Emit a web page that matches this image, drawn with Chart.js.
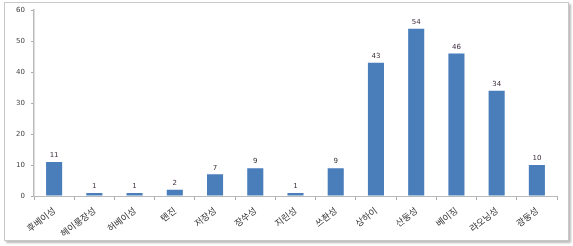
<!DOCTYPE html>
<html><head><meta charset="utf-8">
<script src="https://cdn.jsdelivr.net/npm/chart.js@4/dist/chart.umd.min.js"></script>
<style>
html,body{margin:0;padding:0;background:#fff;}
#wrap{position:relative;width:573px;height:246px;}
#frame{position:absolute;left:4px;top:2px;width:563px;height:237px;border:1px solid #c8c8c8;box-shadow:2px 2px 2px #bbb;}
canvas{position:absolute;left:0;top:0;}
</style></head>
<body><div id="wrap"><div id="frame"></div><canvas id="c" width="573" height="246"></canvas></div>
<script>
const categories = ['후베이성','헤이룽장성','허베이성','톈진','저장성','장쑤성','지린성','쓰촨성','상하이','산둥성','베이징','랴오닝성','광둥성'];
const values = [11,1,1,2,7,9,1,9,43,54,46,34,10];
const yTicks = [0,10,20,30,40,50,60];

const labelPlugin = {
  id:'vals',
  afterDatasetsDraw(chart){
    const ctx = chart.ctx;
    const meta = chart.getDatasetMeta(0);
    ctx.save();
    ctx.font = '7px "DejaVu Sans", sans-serif';
    ctx.fillStyle = '#3a2b3a';
    ctx.textAlign = 'center';
    ctx.textBaseline = 'bottom';
    meta.data.forEach((bar,i)=>{
      ctx.fillText(String(values[i]), bar.x, bar.y - 3);
    });
    ctx.restore();
  }
};

new Chart(document.getElementById('c'),{
  type:'bar',
  data:{labels:categories,datasets:[{data:values,backgroundColor:'#4a7ebb',borderWidth:0,barPercentage:0.4,categoryPercentage:1}]},
  options:{
    responsive:false,animation:false,
    layout:{padding:{left:0,right:16,top:10,bottom:0}},
    plugins:{legend:{display:false},tooltip:{enabled:false}},
    scales:{
      x:{
        grid:{display:true,drawOnChartArea:false,drawTicks:true,tickLength:4,color:'#aaa',offset:true},
        border:{display:true,color:'#bbb'},
        ticks:{minRotation:38,maxRotation:38,autoSkip:false,color:'#333',font:{family:'"Noto Sans CJK KR", sans-serif',size:9},padding:5},
        afterFit(s){s.height=50;}
      },
      y:{
        min:0,max:60,
        afterBuildTicks(s){s.ticks=yTicks.map(v=>({value:v}));},
        grid:{display:true,drawOnChartArea:false,drawTicks:true,tickLength:3,color:'#aaa'},
        border:{display:true,color:'#bbb',width:1.5},
        ticks:{color:'#444',font:{family:'"DejaVu Sans", sans-serif',size:7},padding:6},
        afterFit(s){s.width=34;}
      }
    }
  },
  plugins:[labelPlugin]
});
</script></body></html>
